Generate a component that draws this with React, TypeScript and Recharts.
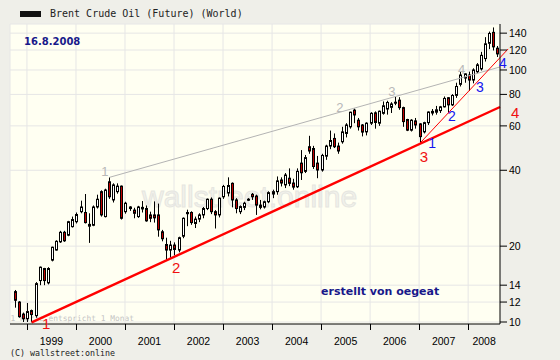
import React from "react";
import {
  ComposedChart,
  Bar,
  XAxis,
  YAxis,
  CartesianGrid,
  ReferenceLine,
  ReferenceDot,
} from "recharts";

// monthly candles, first one is Oct 1998, last one Aug 2008
const firstYear = 1998;
const firstMonth = 10;

const open = [
  13.2, 12.0, 10.75,
  10.3, 11.1, 10.6, 14.6, 16.3, 14.3, 17.6, 19.3, 20.8, 22.7, 22.1, 23.9,
  25.0, 27.4, 27.2, 24.0, 24.2, 28.6, 32.9, 26.2, 36.0, 30.5, 32.9, 34.6,
  27.4, 28.6, 27.8, 26.2, 28.5, 28.2, 26.6, 26.6, 26.6, 22.8, 20.3, 19.3,
  20.2, 19.3, 21.9, 26.9, 27.2, 24.6, 25.6, 26.6, 28.2, 30.7, 27.4, 26.6,
  31.4, 32.5, 35.5, 30.5, 27.4, 28.5, 30.6, 32.1, 31.6, 29.1, 28.6, 30.0,
  32.2, 32.9, 36.6, 35.0, 37.2, 35.6, 34.4, 42.7, 39.6, 49.6, 48.8, 42.7,
  40.1, 45.5, 49.9, 53.5, 49.9, 51.9, 56.0, 59.5, 69.3, 63.2, 60.5, 56.8,
  61.5, 67.6, 61.5, 67.3, 70.0, 71.1, 74.5, 75.9, 70.9, 63.6, 57.7, 62.8,
  61.1, 56.8, 61.8, 67.5, 68.0, 69.0, 71.4, 77.6, 72.7, 79.3, 87.7, 92.9,
  95.5, 91.2, 98.4, 101.0, 111.0, 127.6, 141.0, 122.0,
];
const high = [
  13.4, 12.1, 10.9,
  11.9, 11.2, 14.4, 16.6, 16.4, 16.5, 19.9, 21.1, 23.0, 23.0, 25.2, 26.2,
  27.2, 30.3, 32.2, 27.0, 29.0, 32.0, 33.3, 33.8, 37.5, 35.5, 35.5, 34.8,
  30.0, 28.8, 28.4, 28.9, 30.2, 29.0, 27.4, 30.1, 29.5, 23.2, 21.6, 21.0,
  20.7, 21.8, 26.0, 27.9, 27.5, 26.2, 27.0, 28.6, 30.9, 31.2, 27.8, 31.2,
  35.0, 37.5, 35.8, 31.0, 29.0, 30.0, 31.0, 32.5, 32.0, 30.5, 30.3, 33.0,
  33.5, 37.8, 37.5, 39.0, 40.7, 37.0, 40.7, 48.1, 46.0, 54.8, 50.0, 45.6,
  46.5, 50.5, 57.5, 56.0, 51.5, 59.5, 61.5, 68.3, 70.3, 64.5, 61.0, 62.0,
  68.0, 68.5, 69.0, 75.0, 75.5, 74.5, 78.5, 78.0, 71.5, 64.0, 63.8, 64.5,
  61.5, 62.3, 68.5, 70.0, 72.0, 72.0, 78.5, 78.0, 80.2, 89.0, 98.4, 97.0,
  98.5, 101.5, 106.5, 118.0, 135.0, 142.0, 147.5, 124.5,
];
const low = [
  11.4, 10.4, 10.0,
  10.0, 9.97, 10.4, 14.0, 14.0, 14.1, 17.4, 19.2, 20.6, 20.8, 21.9, 23.7,
  24.6, 27.0, 24.6, 20.6, 24.0, 28.2, 26.2, 26.0, 30.8, 29.8, 32.3, 25.5,
  26.9, 27.6, 25.8, 25.9, 27.2, 25.0, 24.9, 24.8, 21.8, 20.9, 17.6, 18.0,
  18.4, 18.9, 21.5, 24.0, 24.3, 23.6, 24.9, 25.8, 27.8, 26.8, 23.5, 26.0,
  30.8, 31.5, 28.5, 27.0, 26.8, 27.8, 30.2, 30.5, 26.6, 28.0, 28.2, 29.6,
  31.0, 32.0, 34.5, 34.0, 34.6, 33.5, 34.0, 36.6, 39.0, 46.5, 40.5, 37.2,
  39.5, 44.0, 48.5, 49.0, 46.5, 51.0, 54.0, 58.5, 61.5, 57.5, 54.5, 55.0,
  60.5, 58.5, 60.0, 66.5, 66.5, 67.5, 72.5, 69.5, 59.5, 57.2, 57.0, 58.5,
  51.0, 56.0, 60.5, 66.0, 66.5, 67.5, 71.0, 67.3, 72.0, 77.5, 86.0, 89.0,
  82.5, 88.5, 97.0, 99.5, 108.0, 121.0, 119.5, 112.6,
];
const close = [
  12.2, 10.5, 10.3,
  11.0, 10.7, 14.2, 16.5, 14.6, 16.3, 19.8, 20.9, 22.7, 21.0, 25.0, 25.5,
  26.7, 28.6, 24.8, 24.4, 28.6, 30.7, 26.6, 33.4, 31.4, 35.0, 34.6, 25.8,
  29.6, 28.2, 27.0, 28.6, 28.1, 25.2, 25.8, 25.9, 23.2, 21.4, 19.3, 20.2,
  19.4, 21.6, 25.8, 27.2, 24.8, 25.6, 26.6, 28.2, 30.7, 27.4, 26.6, 31.0,
  34.5, 34.8, 30.5, 28.2, 28.7, 29.6, 30.7, 31.4, 29.1, 28.5, 30.0, 32.6,
  32.9, 36.3, 35.6, 38.3, 35.5, 34.3, 39.6, 39.1, 44.9, 47.7, 41.4, 40.1,
  45.8, 49.9, 52.5, 49.6, 47.7, 56.8, 60.5, 68.0, 66.3, 59.5, 56.7, 61.5,
  67.3, 61.9, 68.6, 72.1, 74.3, 73.3, 74.0, 70.9, 62.4, 57.7, 63.2, 60.5,
  54.4, 61.8, 68.1, 68.5, 69.5, 71.4, 77.1, 72.7, 79.2, 86.0, 95.5, 96.5,
  91.2, 100.0, 104.8, 114.3, 127.0, 139.6, 123.5, 115.8,
];

const years = ["1999", "2000", "2001", "2002", "2003", "2004", "2005", "2006", "2007", "2008"];
const yTicks = [10, 12, 14, 20, 40, 60, 80, 100, 120, 140];

// trend lines as [month index (0 = Jan 1999), price]
const supportLine = [[1.16, 9.97], [115.8, 71.3]];
const steepLine = [[96.2, 51.2], [117.8, 121.2]];
const topLine = [[20.2, 37.5], [115.8, 102.8]];

// numbered touch points
const greyMarks = [
  { x: 19.1, y: 39.4, text: "1" },
  { x: 76.6, y: 70.9, text: "2" },
  { x: 89.3, y: 82.0, text: "3" },
  { x: 106.4, y: 100, text: "4" },
];
const redMarks = [
  { x: 4.7, y: 9.86, text: "1" },
  { x: 36.5, y: 16.4, text: "2" },
  { x: 97.2, y: 45.3, text: "3" },
  { x: 119.5, y: 68.0, text: "4" },
];
const blueMarks = [
  { x: 99.2, y: 51.2, text: "1" },
  { x: 104.0, y: 65.9, text: "2" },
  { x: 110.9, y: 85.6, text: "3" },
  { x: 116.5, y: 106.3, text: "4" },
];

const X_MIN = -4.15;
const X_MAX = 115.8;
const Y_MIN = 9.82;
const Y_MAX = 152.2;

const data = open.map((o, k) => {
  const m = firstMonth - 1 + k;
  const year = firstYear + Math.floor(m / 12);
  const month = (m % 12) + 1;
  return {
    x: (year - 1999) * 12 + (month - 1),
    open: o,
    high: high[k],
    low: low[k],
    close: close[k],
    range: [low[k], high[k]],
  };
});

const yearStarts = years.map((_, k) => k * 12);
const yearMids = years.map((_, k) => (k * 12 + Math.min(k * 12 + 12, X_MAX)) / 2);
const xTicks = [...yearStarts, ...yearMids].sort((a, b) => a - b);

const sans = "'Liberation Sans', Arial, sans-serif";
const mono = "'DejaVu Sans Mono', monospace";
const verdana = "'DejaVu Sans', Verdana, sans-serif";

const Candle = (props: any) => {
  const { x, y, width, height, payload } = props;
  if (x == null || y == null || !payload) return null;
  const { open: o, close: c, high: h, low: l } = payload;
  const lh = Math.log(h);
  const ll = Math.log(l);
  const toPx = (v: number) => (lh === ll ? y : y + ((lh - Math.log(v)) / (lh - ll)) * height);
  const cx = Math.round(x + width / 2);
  const top = toPx(Math.max(o, c));
  const bottom = toPx(Math.min(o, c));
  return (
    <g>
      <line x1={cx + 0.5} x2={cx + 0.5} y1={y} y2={y + height} stroke="#000" strokeWidth={1} />
      <rect
        x={cx - 0.5}
        y={top}
        width={2}
        height={Math.max(bottom - top, 1)}
        fill={c >= o ? "#ffffff" : "#c00000"}
        stroke="#000"
        strokeWidth={1}
      />
    </g>
  );
};

const YearTick = (props: any) => {
  const { x, y, payload } = props;
  const v = payload.value;
  const k = yearStarts.indexOf(v);
  if (k >= 0) {
    const px = Math.round(x) + 0.5;
    return <line x1={px} x2={px} y1={y} y2={y + 6} stroke="#000" />;
  }
  const idx = yearMids.indexOf(v);
  return (
    <text x={x} y={y + 21} textAnchor="middle" fontSize={10.5} fontFamily={sans} fill="#000">
      {years[idx]}
    </text>
  );
};

const markShape = (color: string, size: number, text: string) => (p: any) => (
  <text
    x={p.cx}
    y={p.cy}
    textAnchor="middle"
    dominantBaseline="central"
    fontSize={size}
    fontFamily={sans}
    fill={color}
  >
    {text}
  </text>
);

export default function App() {
  return (
    <div style={{ position: "absolute", left: 0, top: 0, width: 560, height: 360, background: "#efefe9" }}>
      <svg width={560} height={360} style={{ position: "absolute", left: 0, top: 0 }}>
        <rect x={10} y={24} width={490} height={300} fill="#fffff2" />
        <text x={142} y={207} fontSize={30} fontFamily={sans} fill="#f2f2ec" stroke="#e6e6e0" strokeWidth={1}>
          wallstreet:online
        </text>
        <text x={10.5} y={320.5} fontSize={7.9} fontFamily={mono} fill="#c4c4c4">
          1 Kerze entspricht 1 Monat
        </text>
      </svg>
      <div style={{ position: "absolute", left: 0, top: 0 }}>
        <ComposedChart width={560} height={360} data={data} margin={{ top: 24, right: 0, bottom: 0, left: 10 }}>
          <CartesianGrid
            stroke="#e6e6e6"
            fill="none"
            verticalValues={[X_MIN, ...yearStarts]}
            horizontalValues={[...yTicks, Y_MAX]}
          />
          <XAxis
            dataKey="x"
            type="number"
            domain={[X_MIN, X_MAX]}
            allowDataOverflow
            ticks={xTicks}
            interval={0}
            tickSize={0}
            tickMargin={0}
            tickLine={false}
            tick={YearTick}
            axisLine={{ stroke: "#000" }}
            height={36}
          />
          <YAxis
            orientation="right"
            scale="log"
            domain={[Y_MIN, Y_MAX]}
            allowDataOverflow
            ticks={yTicks}
            interval={0}
            width={60}
            tickSize={7}
            tickMargin={2}
            tick={{ fill: "#000", fontSize: 10.5, fontFamily: sans }}
            axisLine={{ stroke: "#000" }}
            tickLine={{ stroke: "#000" }}
          />
          <ReferenceLine
            segment={topLine.map(([x, y]) => ({ x, y }))}
            stroke="#b4b4b4"
            strokeWidth={1}
            ifOverflow="visible"
          />
          <ReferenceLine
            segment={supportLine.map(([x, y]) => ({ x, y }))}
            stroke="#ff0000"
            strokeWidth={2.4}
            ifOverflow="visible"
          />
          <ReferenceLine
            segment={steepLine.map(([x, y]) => ({ x, y }))}
            stroke="#ff0000"
            strokeWidth={1}
            ifOverflow="visible"
          />
          <Bar dataKey="range" barSize={3} shape={Candle} isAnimationActive={false} />
          {greyMarks.map((m, i) => (
            <ReferenceDot key={"g" + i} x={m.x} y={m.y} r={0} ifOverflow="visible" shape={markShape("#b8b8b8", 13, m.text)} />
          ))}
          {redMarks.map((m, i) => (
            <ReferenceDot key={"r" + i} x={m.x} y={m.y} r={0} ifOverflow="visible" shape={markShape("#f01010", 15, m.text)} />
          ))}
          {blueMarks.map((m, i) => (
            <ReferenceDot key={"b" + i} x={m.x} y={m.y} r={0} ifOverflow="visible" shape={markShape("#1414f0", 14, m.text)} />
          ))}
        </ComposedChart>
      </div>
      <svg width={560} height={360} style={{ position: "absolute", left: 0, top: 0, pointerEvents: "none" }}>
        <rect x={20} y={11} width={21} height={6} fill="#111" />
        <text x={50} y={17} fontSize={10} fontFamily={mono} fill="#222">
          Brent Crude Oil (Future) (World)
        </text>
        <text x={24} y={45} fontSize={10} fontWeight="bold" fontFamily={verdana} fill="#18188a">
          16.8.2008
        </text>
        <text x={321} y={294.5} fontSize={11} fontWeight="bold" fontFamily={verdana} fill="#18188a">
          erstellt von oegeat
        </text>
        <text x={10} y={356} fontSize={8.3} fontFamily={mono} fill="#222">
          (C) wallstreet:online
        </text>
      </svg>
    </div>
  );
}
